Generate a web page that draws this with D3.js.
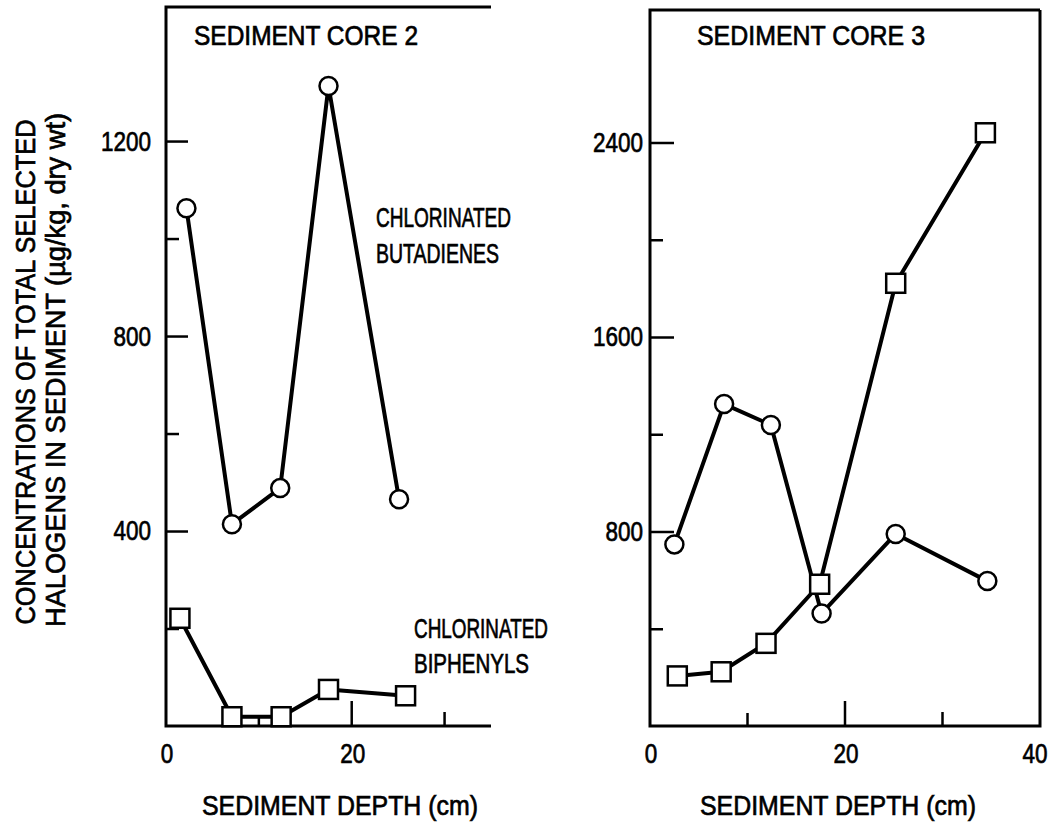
<!DOCTYPE html>
<html>
<head>
<meta charset="utf-8">
<script src="https://cdn.jsdelivr.net/npm/d3@7"></script>
<style>
    body { margin: 0; background: #fff; }
    text { font-family: "Liberation Sans", Arial, sans-serif; fill: #000; stroke: #000; stroke-width: 0.7px; }
</style>
</head>
<body>
<div id="chart"></div>
<script>
// sediment core 2
var core2DepthButa = [2.2, 7.1, 12.3, 17.5, 25.1];
var core2Buta = [1062, 414, 488, 1313, 465];
var core2DepthBiph = [1.5, 7.1, 12.4, 17.5, 25.8];
var core2Biph = [221, 19, 19, 75, 62];

// sediment core 3
var core3DepthButa = [2.5, 7.6, 12.4, 17.6, 25.2, 34.6];
var core3Buta = [747, 1324, 1238, 463, 790, 596];
var core3DepthBiph = [2.8, 7.3, 11.9, 17.4, 25.2, 34.4];
var core3Biph = [206, 223, 340, 583, 1821, 2440];

var core2YMajor = [400, 800, 1200];
var core2YMinor = [200, 600, 1000];
var core3YMajor = [800, 1600, 2400];
var core3YMinor = [400, 1200, 2000];
var core2XLabels = [0, 20];
var core3XLabels = [0, 20, 40];

var width = 1053,
    height = 826;

var svg = d3
    .select("#chart")
    .append("svg")
    .attr("width", width)
    .attr("height", height);

svg.append("rect").attr("width", width).attr("height", height).attr("fill", "#fff");

// squeeze text to the narrow type of the original
function fit(sel, len) {
    sel.attr("textLength", len).attr("lengthAdjust", "spacingAndGlyphs");
}
function digitsLen(d) {
    return String(d).length * 12.5;
}

function zip(xs, ys) {
    return xs.map(function (x, i) {
        return { x: x, y: ys[i] };
    });
}

function drawPanel(p) {
    var x = d3.scaleLinear().domain(p.xDomain).range(p.xRange);
    var y = d3.scaleLinear().domain(p.yDomain).range([726, p.top]);
    var g = svg.append("g");

    var x0 = x.range()[0], x1 = x.range()[1], y0 = y.range()[0], y1 = y.range()[1];
    var framePath = "M" + x1 + "," + y1 + "H" + x0 + "V" + y0 + "H" + x1;
    if (p.box) framePath += "V" + y1;
    g.append("path")
        .attr("d", framePath)
        .attr("fill", "none")
        .attr("stroke", "#000")
        .attr("stroke-width", 3);

    // y ticks, pointing inward
    g.append("g")
        .attr("transform", "translate(" + x0 + ",0)")
        .call(d3.axisLeft(y).tickValues(p.yMajor).tickSize(-p.yMajorLen).tickPadding(p.yPad).tickFormat(d3.format("d")))
        .call(function (a) {
            a.select(".domain").remove();
            a.selectAll("line").attr("stroke-width", 2.5);
            a.selectAll("text")
                .attr("font-size", 28)
                .attr("font-family", null)
                .attr("textLength", digitsLen)
                .attr("lengthAdjust", "spacingAndGlyphs");
        });
    g.append("g")
        .attr("transform", "translate(" + x0 + ",0)")
        .call(d3.axisLeft(y).tickValues(p.yMinor).tickSize(-13).tickFormat(""))
        .call(function (a) {
            a.select(".domain").remove();
            a.selectAll("line").attr("stroke-width", 2.5);
        });

    // x ticks, pointing upward
    g.selectAll(".xtick")
        .data(p.xTicks)
        .enter()
        .append("line")
        .attr("x1", function (d) { return x(d.v); })
        .attr("x2", function (d) { return x(d.v); })
        .attr("y1", y0)
        .attr("y2", function (d) { return y0 - d.len; })
        .attr("stroke", "#000")
        .attr("stroke-width", 2.5);

    g.selectAll(".xlab")
        .data(p.xLabels)
        .enter()
        .append("text")
        .attr("x", function (d) { return x(d); })
        .attr("dx", function (d, i) { return i === 2 ? -5 : 1; })
        .attr("y", 763)
        .attr("text-anchor", "middle")
        .attr("font-size", 28)
        .attr("textLength", digitsLen)
        .attr("lengthAdjust", "spacingAndGlyphs")
        .text(function (d) { return d; });

    var line = d3
        .line()
        .x(function (d) { return x(d.x); })
        .y(function (d) { return y(d.y); });

    var buta = zip(p.butaX, p.butaY);
    var biph = zip(p.biphX, p.biphY);

    [buta, biph].forEach(function (s) {
        g.append("path")
            .datum(s)
            .attr("d", line)
            .attr("fill", "none")
            .attr("stroke", "#000")
            .attr("stroke-width", 4)
            .attr("stroke-linejoin", "round");
    });

    g.selectAll(".circ")
        .data(buta)
        .enter()
        .append("circle")
        .attr("cx", function (d) { return x(d.x); })
        .attr("cy", function (d) { return y(d.y); })
        .attr("r", 9)
        .attr("fill", "#fff")
        .attr("stroke", "#000")
        .attr("stroke-width", 2.5);

    g.selectAll(".sq")
        .data(biph)
        .enter()
        .append("rect")
        .attr("x", function (d) { return x(d.x) - 9.5; })
        .attr("y", function (d) { return y(d.y) - 9.5; })
        .attr("width", 19)
        .attr("height", 19)
        .attr("fill", "#fff")
        .attr("stroke", "#000")
        .attr("stroke-width", 2.5);

    g.append("text")
        .attr("x", p.titleX)
        .attr("y", 45)
        .attr("font-size", 28)
        .text(p.title)
        .call(fit, p.titleLen);

    g.append("text")
        .attr("x", p.depthX)
        .attr("y", 815)
        .attr("font-size", 28)
        .text("SEDIMENT DEPTH (cm)")
        .call(fit, 276);
}

drawPanel({
    xDomain: [0, 35],
    xRange: [166, 491],
    yDomain: [0, 1475],
    top: 7,
    box: false,
    yMajor: core2YMajor,
    yMinor: core2YMinor,
    yMajorLen: 22,
    yPad: 15,
    xTicks: [{ v: 10, len: 8 }, { v: 20, len: 25 }, { v: 30, len: 14 }],
    xLabels: core2XLabels,
    butaX: core2DepthButa,
    butaY: core2Buta,
    biphX: core2DepthBiph,
    biphY: core2Biph,
    title: "SEDIMENT CORE 2",
    titleX: 194,
    titleLen: 224,
    depthX: 202
});

drawPanel({
    xDomain: [0, 40],
    xRange: [650, 1040],
    yDomain: [0, 2945],
    top: 10,
    box: true,
    yMajor: core3YMajor,
    yMinor: core3YMinor,
    yMajorLen: 24,
    yPad: 7,
    xTicks: [{ v: 10, len: 13 }, { v: 20, len: 25 }, { v: 30, len: 14 }],
    xLabels: core3XLabels,
    butaX: core3DepthButa,
    butaY: core3Buta,
    biphX: core3DepthBiph,
    biphY: core3Biph,
    title: "SEDIMENT CORE 3",
    titleX: 697,
    titleLen: 228,
    depthX: 700
});

// series labels
svg.append("text").attr("x", 376).attr("y", 227).attr("font-size", 28).text("CHLORINATED").call(fit, 135);
svg.append("text").attr("x", 376).attr("y", 263).attr("font-size", 28).text("BUTADIENES").call(fit, 123);
svg.append("text").attr("x", 414).attr("y", 638).attr("font-size", 28).text("CHLORINATED").call(fit, 134);
svg.append("text").attr("x", 414).attr("y", 673).attr("font-size", 28).text("BIPHENYLS").call(fit, 115);

// y axis title
svg.append("text")
    .attr("transform", "translate(35,372) rotate(-90)")
    .attr("text-anchor", "middle")
    .attr("font-size", 28)
    .text("CONCENTRATIONS OF TOTAL SELECTED")
    .call(fit, 505);
svg.append("text")
    .attr("transform", "translate(65,370) rotate(-90)")
    .attr("text-anchor", "middle")
    .attr("font-size", 28)
    .text("HALOGENS IN SEDIMENT (\u00b5g/kg, dry wt)")
    .call(fit, 514);
</script>
</body>
</html>
